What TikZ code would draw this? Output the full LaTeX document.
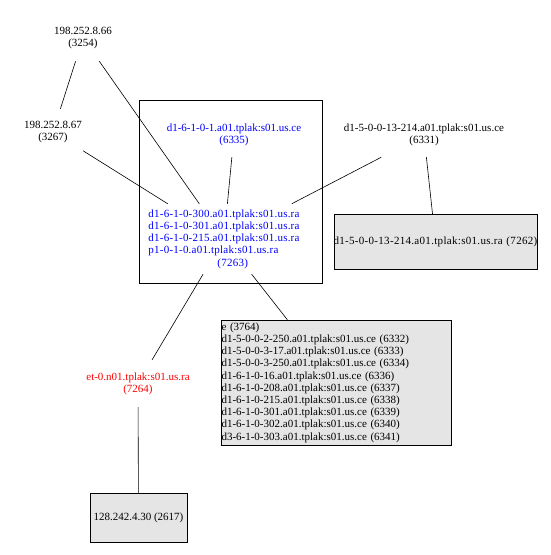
\documentclass[tikz,border=0pt]{standalone}
\usepackage{fontspec}
\setmainfont{Liberation Serif}
\usepackage{xcolor}
\usepackage{tikz}
\usetikzlibrary{positioning}

\definecolor{hostgray}{RGB}{229,229,229}

\begin{document}
\begin{tikzpicture}[x=1pt,y=-1pt,
    every node/.style={font=\fontsize{11}{12.2}\selectfont,inner sep=1pt},
    host/.style={align=center,minimum height=44pt},
    leaf/.style={draw,fill=hostgray,align=left,inner xsep=0pt},
    link/.style={line width=0.6pt}]
  \useasboundingbox (0,0) rectangle (550,555);

  \draw[link] (139,100) rectangle (322,283);

  \node[host,minimum height=46pt] (ip66) at (83,38) {198.252.8.66\\(3254)};
  \node[host,minimum height=46pt] (ip67) at (53,132) {198.252.8.67\\(3267)};
  \node[host,blue] (ce6335) at (234,135) {d1-6-1-0-1.a01.tplak:s01.us.ce\\(6335)};
  \node[blue,align=left,minimum height=70pt,
        font=\fontsize{11}{12.2}\selectfont\addfontfeature{LetterSpace=2}] (core) at (224,239)
       {d1-6-1-0-300.a01.tplak:s01.us.ra\\
        d1-6-1-0-301.a01.tplak:s01.us.ra\\
        d1-6-1-0-215.a01.tplak:s01.us.ra\\
        p1-0-1-0.a01.tplak:s01.us.ra\\
        \hspace*{69pt}(7263)};
  \node[host] (ce6331) at (424,135) {d1-5-0-0-13-214.a01.tplak:s01.us.ce\\(6331)};
  \node[leaf,text width=203pt,minimum height=55pt,
        font=\fontsize{11}{12.2}\selectfont\addfontfeature{LetterSpace=2.8}] (ra7262) at (435.5,241.5)
       {\hspace*{-0.5pt}d1-5-0-0-13-214.a01.tplak:s01.us.ra (7262)};
  \node[host,red,minimum height=47pt] (ra7264) at (138,383.5) {et-0.n01.tplak:s01.us.ra\\(7264)};
  \node[leaf,text width=230pt,minimum height=125pt] (ce3764) at (336.5,382.5)
       {e (3764)\\
        d1-5-0-0-2-250.a01.tplak:s01.us.ce (6332)\\
        d1-5-0-0-3-17.a01.tplak:s01.us.ce (6333)\\
        d1-5-0-0-3-250.a01.tplak:s01.us.ce (6334)\\
        d1-6-1-0-16.a01.tplak:s01.us.ce (6336)\\
        d1-6-1-0-208.a01.tplak:s01.us.ce (6337)\\
        d1-6-1-0-215.a01.tplak:s01.us.ce (6338)\\
        d1-6-1-0-301.a01.tplak:s01.us.ce (6339)\\
        d1-6-1-0-302.a01.tplak:s01.us.ce (6340)\\
        d3-6-1-0-303.a01.tplak:s01.us.ce (6341)};
  \node[leaf,minimum width=97pt,minimum height=49pt] (ip2617) at (138.5,517.5)
       {128.242.4.30 (2617)};

  \foreach \a/\b in {ip66/ip67,ip66/core,ip67/core,ce6335/core,ce6331/core,
                     ce6331/ra7262,core/ra7264,core/ce3764,ra7264/ip2617}
    \draw[link] (\a) -- (\b);
\end{tikzpicture}
\end{document}
